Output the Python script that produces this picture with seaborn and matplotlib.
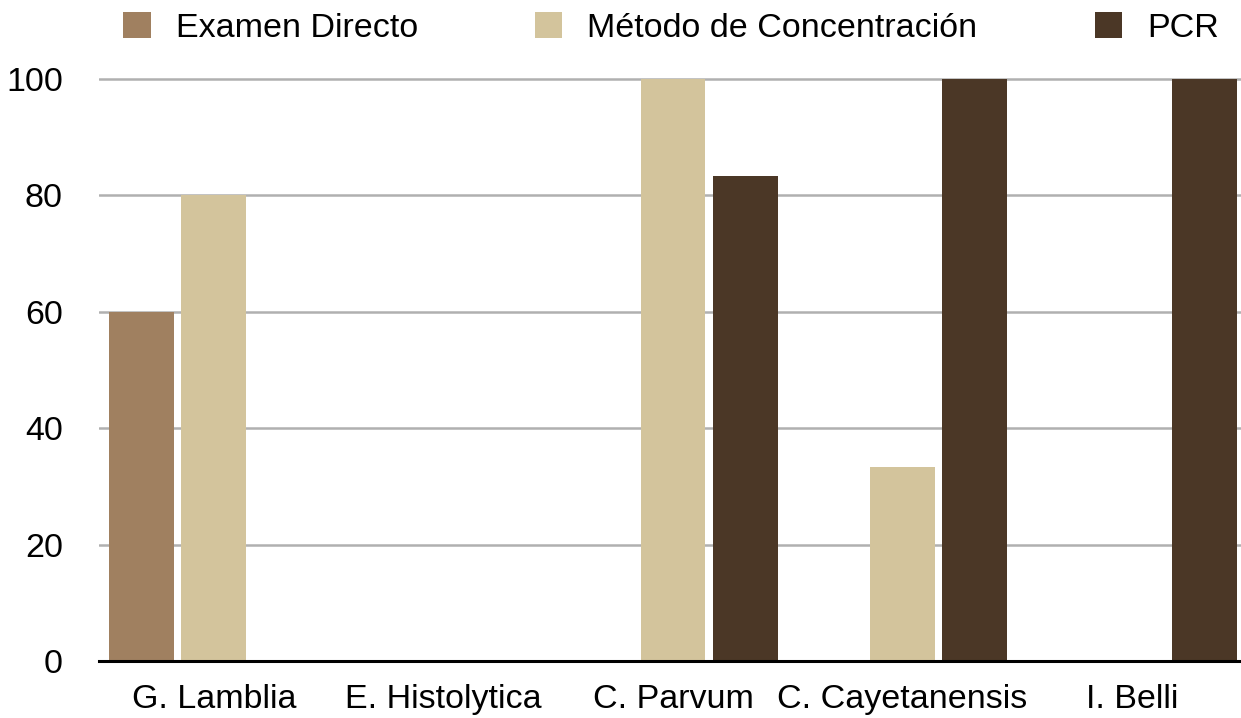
import numpy as np
import pandas as pd
import matplotlib
matplotlib.use("Agg")
import matplotlib.pyplot as plt
from matplotlib.patches import Patch
import seaborn as sns

# Detection rate (%) per parasite and diagnostic method
parasites = ["G. Lamblia", "E. Histolytica", "C. Parvum", "C. Cayetanensis", "I. Belli"]
methods = ["Examen Directo", "Método de Concentración", "PCR"]
examen_directo = [60, 0, 0, 0, 0]
metodo_concentracion = [80, 0, 100, 33.3, 0]
pcr = [0, 0, 83.3, 100, 100]
y_ticks = [0, 20, 40, 60, 80, 100]
colors = ["#A08060", "#D3C49C", "#4B3726"]

df = pd.DataFrame({
    "parasito": parasites * 3,
    "metodo": [m for m in methods for _ in parasites],
    "valor": examen_directo + metodo_concentracion + pcr,
})

sns.set_theme(style="white")
plt.rcParams["font.family"] = ["Liberation Sans", "DejaVu Sans"]
plt.rcParams["text.color"] = "black"

fig = plt.figure(figsize=(12.41, 7.18), dpi=100)
ax = fig.add_axes([0.0798, 0.0787, 0.9202, 0.8160])

sns.barplot(data=df, x="parasito", y="valor", hue="metodo",
            order=parasites, hue_order=methods, palette=colors,
            width=0.941, linewidth=0, saturation=1, ax=ax, legend=False)

# narrow each bar so a small white gap separates bars within a group
bar_w = 0.283
for container in ax.containers:
    for p in container:
        cx = p.get_x() + p.get_width() / 2
        p.set_x(cx - bar_w / 2)
        p.set_width(bar_w)

ax.set_xlim(-0.5, 4.474)
ax.set_ylim(0, 100.5)
ax.set_yticks(y_ticks)
ax.set_yticklabels([str(v) for v in y_ticks])
ax.set_xlabel("")
ax.set_ylabel("")

ax.yaxis.grid(True, color="#b0b0b0", linewidth=1.8)
ax.xaxis.grid(False)
ax.set_axisbelow(True)

for side in ["top", "right", "left"]:
    ax.spines[side].set_visible(False)
ax.spines["bottom"].set_color("black")
ax.spines["bottom"].set_linewidth(2.2)
ax.spines["bottom"].set_zorder(5)

ax.tick_params(axis="y", length=0, pad=26, labelsize=24.5, labelcolor="black")
ax.tick_params(axis="x", length=0, pad=16.5, labelsize=24.5, labelcolor="black")

handles = [Patch(facecolor=c, edgecolor="none") for c in colors]
fig.legend(handles, methods, loc="center", bbox_to_anchor=(0.5407, 0.961),
           ncol=3, frameon=False, fontsize=24.5, labelcolor="black",
           handlelength=0.8, handleheight=0.8, handletextpad=0.74,
           columnspacing=3.44, borderpad=0, borderaxespad=0)

fig.savefig("out.png", dpi=100, facecolor="white")
